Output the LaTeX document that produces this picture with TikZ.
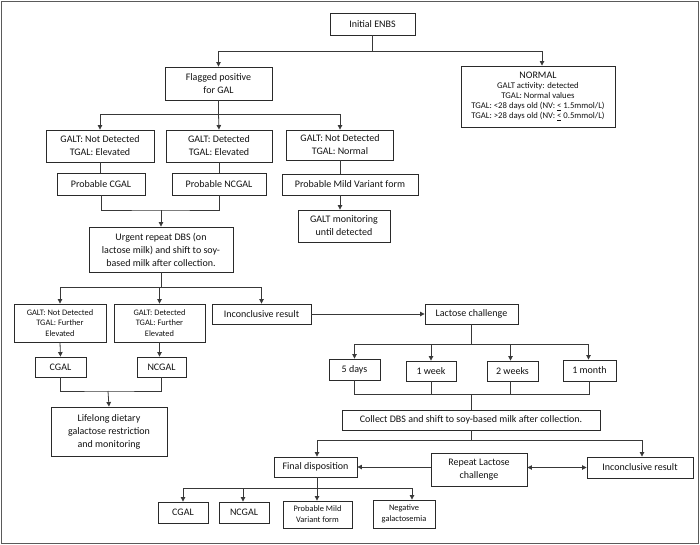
\documentclass[tikz,border=0pt]{standalone}
\usepackage{fontspec}
\setmainfont{Carlito}
\usetikzlibrary{arrows.meta}
\definecolor{boxc}{HTML}{2A2A2A}
\definecolor{linec}{HTML}{383838}
\definecolor{txt}{HTML}{111111}
\definecolor{framec}{HTML}{5A5A5A}
\begin{document}
\begin{tikzpicture}[x=1pt,y=-1pt,
  box/.style={draw=boxc, line width=0.9pt, inner sep=1pt, align=center, text=txt,
    font=\fontsize{10}{13}\selectfont},
  small/.style={font=\fontsize{8.4}{10.8}\selectfont},
  conn/.style={draw=linec, line width=0.8pt},
  arr/.style={conn, -{Triangle[width=4.5pt,length=4.5pt]}},
  darr/.style={conn, {Triangle[width=4.5pt,length=4.5pt]}-{Triangle[width=4.5pt,length=4.5pt]}}
]
\useasboundingbox (0,0) rectangle (700,544);
\draw[framec, line width=1pt] (1,1) rectangle (698,543);

% top
\node[box, minimum width=85pt, minimum height=22pt] (init) at (372.5,24) {Initial ENBS};
\node[box, minimum width=107pt, minimum height=33pt] (flag) at (218.5,83.5) {Flagged positive\\for GAL};
\node[box, font=\fontsize{8.7}{10}\selectfont, minimum width=154pt, minimum height=61pt] (normal) at (538,96.5)
  {{\fontsize{10}{12}\selectfont NORMAL}\\GALT activity: detected\\TGAL: Normal values\\TGAL: {<}28 days old (NV: \underline{<} 1.5mmol/L)\\TGAL: {>}28 days old (NV: \underline{<} 0.5mmol/L)};

\node[box, minimum width=108pt, minimum height=32pt] (b1) at (100,146) {GALT: Not Detected\\TGAL: Elevated};
\node[box, minimum width=106pt, minimum height=32pt] (b2) at (219,146) {GALT: Detected\\TGAL: Elevated};
\node[box, minimum width=107pt, minimum height=30pt] (b3) at (340,145) {GALT: Not Detected\\TGAL: Normal};

\node[box, minimum width=88pt, minimum height=22pt] (pc) at (101,184) {Probable CGAL};
\node[box, minimum width=94pt, minimum height=22pt] (pn) at (219,184) {Probable NCGAL};
\node[box, minimum width=136pt, minimum height=21pt] (pm) at (350,184.5) {Probable Mild Variant form};
\node[box, minimum width=92pt, minimum height=32pt] (gm) at (344,226) {GALT monitoring\\until detected};

\node[box, minimum width=144pt, minimum height=45pt] (urg) at (161,249.5) {Urgent repeat DBS (on\\lactose milk) and shift to soy-\\based milk after collection.};

\node[box, small, minimum width=92pt, minimum height=38pt] (a1) at (60,323) {GALT: Not Detected\\TGAL: Further\\Elevated};
\node[box, small, minimum width=91pt, minimum height=38pt] (a2) at (159.5,323) {GALT: Detected\\TGAL: Further\\Elevated};
\node[box, minimum width=99pt, minimum height=20pt] (inc1) at (261.5,314) {Inconclusive result};
\node[box, minimum width=93pt, minimum height=20pt] (lac) at (471.5,314) {Lactose challenge};

\node[box, minimum width=51pt, minimum height=20pt] (cg) at (60.5,367) {CGAL};
\node[box, minimum width=49pt, minimum height=20pt] (ncg) at (161.5,367) {NCGAL};
\node[box, minimum width=116pt, minimum height=49pt] (life) at (109,431.5) {Lifelong dietary\\galactose restriction\\and monitoring};

\node[box, minimum width=51pt, minimum height=21pt] (d5) at (354.5,369.5) {5 days};
\node[box, minimum width=50pt, minimum height=20pt] (w1) at (431,371) {1 week};
\node[box, minimum width=51pt, minimum height=20pt] (w2) at (512.5,371) {2 weeks};
\node[box, minimum width=53pt, minimum height=21pt] (m1) at (589.5,370.5) {1 month};

\node[box, minimum width=258pt, minimum height=20pt] (col) at (471,420) {Collect DBS and shift to soy-based milk after collection.};

\node[box, minimum width=83pt, minimum height=20pt] (fd) at (315.5,467) {Final disposition};
\node[box, minimum width=96pt, minimum height=33pt] (rep) at (479,469.5) {Repeat Lactose\\challenge};
\node[box, minimum width=106pt, minimum height=21pt] (inc2) at (640,467.5) {Inconclusive result};

\node[box, minimum width=50pt, minimum height=21pt] (fc) at (183,512.5) {CGAL};
\node[box, minimum width=50pt, minimum height=21pt] (fn) at (244,512.5) {NCGAL};
\node[box, small, minimum width=69pt, minimum height=27pt] (fp) at (317.5,514.5) {Probable Mild\\Variant form};
\node[box, small, minimum width=62pt, minimum height=28pt] (fg) at (404,514) {Negative\\galactosemia};

% connectors
\coordinate (j1) at (372.5,51);
\draw[conn] (init.south) -- (j1);
\draw[arr] (j1) -| (flag.north);
\draw[arr] (j1) -| ([xshift=4pt]normal.north);

\coordinate (j2) at (218.5,114);
\draw[conn] (flag.south) -- (j2);
\draw[arr] (j2) -| (b1.north);
\draw[arr] (j2) -- (b2.north);
\draw[arr] (j2) -| (b3.north);

\draw[conn] (b1.south) -- (b1.south |- pc.north);
\draw[conn] (b2.south) -- (b2.south |- pn.north);
\draw[conn] (b3.south) -- (b3.south |- pm.north);
\draw[arr] (b3.south |- pm.south) -- (b3.south |- gm.north);

\coordinate (j3) at (161,210);
\draw[conn] (pc.south) |- (j3) -| (pn.south);
\draw[arr] (j3) -- (urg.north);

\coordinate (j4) at (161,287);
\draw[conn] (urg.south) -- (j4);
\draw[arr] (j4) -| (a1.north);
\draw[arr] (j4) -| (a2.north);
\draw[arr] (j4) -| (inc1.north);
\draw[arr] (inc1.east) -- (lac.west);

\draw[arr] (a1.south) -- (cg.north);
\draw[arr] (a2.south) -- (a2.south |- ncg.north);
\coordinate (j5) at (108,391);
\draw[conn] (cg.south) |- (j5) -| (ncg.south);
\draw[arr] (j5) -- (life.north);

\coordinate (j6) at (471.5,344);
\draw[conn] (lac.south) -- (j6);
\draw[arr] (j6) -| (d5.north);
\draw[arr] (j6) -| (w1.north);
\draw[arr] (j6) -| ([xshift=-2pt]w2.north);
\draw[arr] (j6) -| ([xshift=-1pt]m1.north);

\coordinate (j7) at (471.5,394);
\draw[conn] (d5.south) |- (j7);
\draw[conn] (w1.south) -- (w1.south |- j7);
\draw[conn] ([xshift=-2pt]w2.south) -- ([xshift=-2pt]w2.south |- j7);
\draw[conn] (m1.south) |- (j7);
\draw[conn] (j7) -- (col.north -| j7);

\coordinate (j8) at (471.5,440);
\draw[conn] (col.south -| j8) -- (j8);
\draw[arr] (j8) -| ([xshift=1.5pt]fd.north);
\draw[arr] (j8) -| ([xshift=2pt]inc2.north);
\draw[arr] (rep.west |- fd.east) -- (fd.east);
\draw[darr] (rep.east |- inc2.west) -- (inc2.west);

\coordinate (j9) at (317,488);
\draw[conn] ([xshift=1.5pt]fd.south) -- (j9);
\draw[arr] (j9) -| (fc.north);
\draw[arr] (j9) -| ([xshift=-1pt]fn.north);
\draw[arr] (j9) -- (j9 |- fp.north);
\draw[arr] (j9) -| ([xshift=8pt]fg.north);
\end{tikzpicture}
\end{document}
